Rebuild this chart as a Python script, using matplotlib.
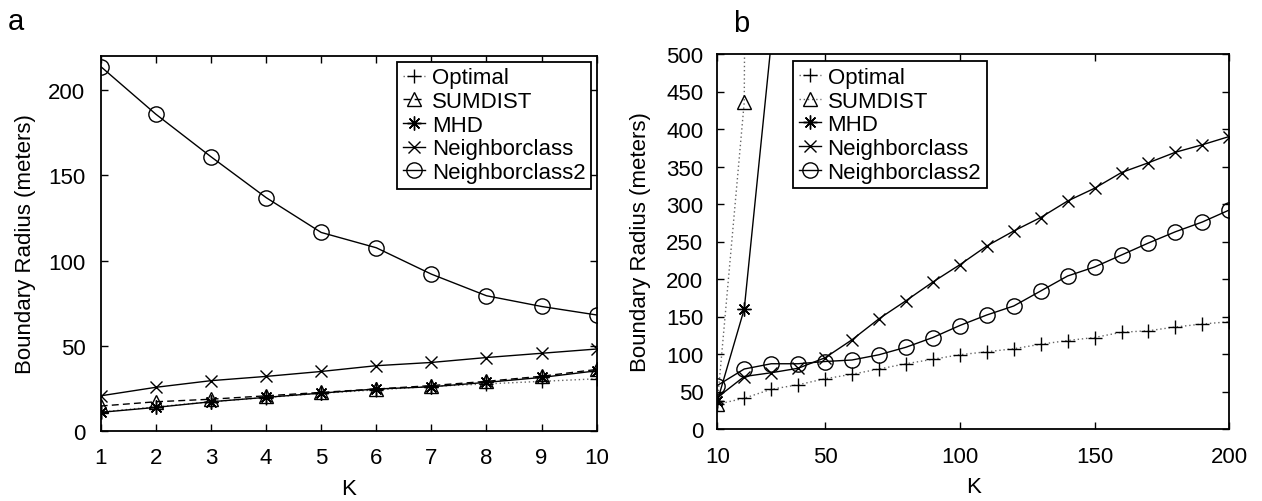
import matplotlib
matplotlib.use("Agg")
import matplotlib.pyplot as plt
import numpy as np

plt.rcParams['font.family'] = ['Liberation Sans', 'DejaVu Sans']

# ---------------- Panel a data ----------------
k_a = [1, 2, 3, 4, 5, 6, 7, 8, 9, 10]
a_optimal = [11, 14, 17, 19.5, 22, 24, 26, 27.5, 29, 30.5]
a_sumdist = [14.5, 17, 18.5, 20.5, 22.5, 24.5, 26.5, 29, 32, 36]
a_mhd = [10.8, 13.7, 17, 19.6, 22.1, 24.5, 25.8, 28.4, 31.3, 35.2]
a_nc = [20.5, 25.5, 29.4, 31.9, 34.8, 38.2, 40.1, 43, 45.5, 48]
a_nc2 = [214, 186, 161, 137, 116.5, 107.5, 92, 79.3, 73, 68]

# ---------------- Panel b data ----------------
k_b = [10, 20, 30, 40, 50, 60, 70, 80, 90, 100,
       110, 120, 130, 140, 150, 160, 170, 180, 190, 200]
b_optimal = [33, 41, 53, 59, 67, 73, 80, 87, 93, 99,
             103, 107, 113, 118, 122, 129, 131, 136, 140, 143]
k_b_sumdist = [10, 20, 30]
b_sumdist = [34, 436, 7000]
k_b_mhd = [10, 20, 30]
b_mhd = [37, 160, 515]
b_nc = [42, 70, 75, 81, 95, 119, 147, 171, 196, 219,
        244, 264, 282, 304, 321, 342, 355, 369, 379, 390]
b_nc2 = [58, 80, 87, 87, 90, 92, 99, 109, 122, 138,
         152, 164, 184, 204, 216, 232, 248, 263, 276, 292]

labels = ['Optimal', 'SUMDIST', 'MHD', 'Neighborclass', 'Neighborclass2']

W, H = 1262, 502
fig = plt.figure(figsize=(W / 100, H / 100), dpi=100)

axa = fig.add_axes([100.7 / W, (H - 431.7) / H, 496 / W, 374.4 / H])
axb = fig.add_axes([717.3 / W, (H - 430) / H, 512 / W, 375 / H])

FS = 16
ast = (8, 2, 0)
dot_kw = dict(color='#666666', lw=1.0, linestyle=(0, (1, 2)))
sol_kw = dict(color='black', lw=1.0, linestyle='-')
dash_kw = dict(color='black', lw=1.0, linestyle=(0, (5, 3)))
mk = dict(markerfacecolor='none', markeredgecolor='black', markeredgewidth=1.0)

# Panel a
axa.plot(k_a, a_optimal, marker='+', markersize=10, label=labels[0], **dot_kw, **mk)
axa.plot(k_a, a_sumdist, marker='^', markersize=10, label=labels[1], **dash_kw, **mk)
axa.plot(k_a, a_mhd, marker=ast, markersize=10, label=labels[2], **sol_kw, **mk)
axa.plot(k_a, a_nc, marker='x', markersize=8, label=labels[3], **sol_kw, **mk)
axa.plot(k_a, a_nc2, marker='o', markersize=11, label=labels[4], **sol_kw, **mk)
axa.set_xlim(1, 10)
axa.set_ylim(0, 220)
axa.set_xticks(k_a)
axa.set_yticks([0, 50, 100, 150, 200])

# Panel b
axb.plot(k_b, b_optimal, marker='+', markersize=10, label=labels[0], **dot_kw, **mk)
axb.plot(k_b_sumdist, b_sumdist, marker='^', markersize=10, label=labels[1], **dot_kw, **mk)
axb.plot(k_b_mhd, b_mhd, marker=ast, markersize=10, label=labels[2], **sol_kw, **mk)
axb.plot(k_b, b_nc, marker='x', markersize=8, label=labels[3], **sol_kw, **mk)
axb.plot(k_b, b_nc2, marker='o', markersize=11, label=labels[4], **sol_kw, **mk)
axb.set_xlim(10, 200)
axb.set_ylim(0, 500)
axb.set_xticks([10, 50, 100, 150, 200])
axb.set_yticks(np.arange(0, 501, 50))

for ax, ypad in ((axa, 11), (axb, 10)):
    for s in ax.spines.values():
        s.set_linewidth(1.3)
    ax.tick_params(direction='in', length=5, width=1, top=True, right=True,
                   labelsize=FS, colors='black')
    ax.tick_params(axis='x', pad=12)
    ax.tick_params(axis='y', pad=ypad)
    ax.set_xlabel('K', fontsize=FS, labelpad=7)

axa.set_ylabel('Boundary Radius (meters)', fontsize=FS, labelpad=9)
axb.set_ylabel('Boundary Radius (meters)', fontsize=FS, labelpad=11)

leg_kw = dict(fontsize=FS, frameon=True, fancybox=False, edgecolor='black',
              handlelength=1.0, handletextpad=0.3, labelspacing=0.12,
              borderpad=0.25, borderaxespad=0.0, framealpha=1)
la = axa.legend(loc='upper right', bbox_to_anchor=(0.9885, 0.985), **leg_kw)
lb = axb.legend(loc='upper left', bbox_to_anchor=(0.148, 0.9805), **leg_kw)
for lg in (la, lb):
    lg.get_frame().set_linewidth(1.3)

fig.text(8 / W, 1 - 30 / H, 'a', fontsize=21, ha='left', va='baseline')
fig.text(733 / W, 1 - 32 / H, 'b', fontsize=21, ha='left', va='baseline')

fig.savefig('out.png', dpi=100)
